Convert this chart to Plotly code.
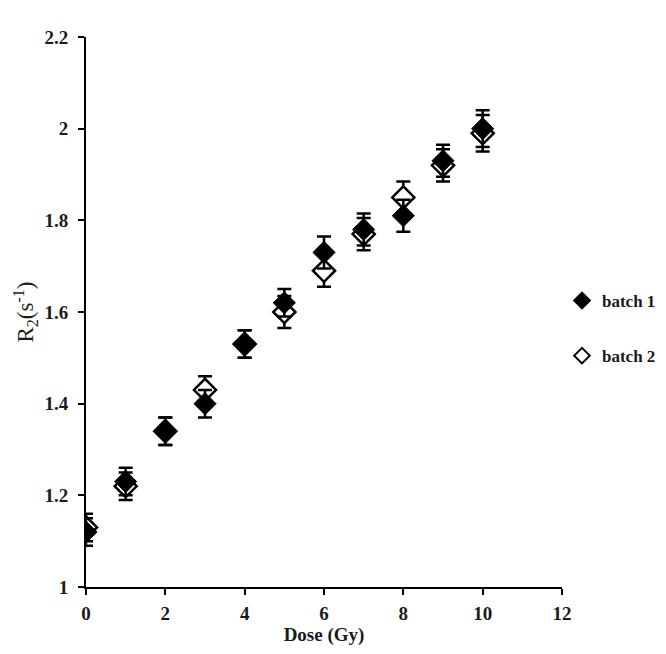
import plotly.graph_objects as go

# data
dose = [0, 1, 2, 3, 4, 5, 6, 7, 8, 9, 10]
batch1 = [1.12, 1.23, 1.34, 1.40, 1.53, 1.62, 1.73, 1.78, 1.81, 1.93, 2.00]
batch2 = [1.13, 1.22, 1.34, 1.43, 1.53, 1.60, 1.69, 1.77, 1.85, 1.92, 1.99]
err1 = [0.03, 0.03, 0.03, 0.03, 0.03, 0.03, 0.035, 0.035, 0.035, 0.035, 0.04]
err2 = [0.03, 0.03, 0.03, 0.03, 0.03, 0.035, 0.035, 0.035, 0.035, 0.035, 0.04]

serif = "Liberation Serif, Times New Roman, serif"

fig = go.Figure()

fig.add_trace(go.Scatter(
    x=dose, y=batch2, mode="markers", name="<b>batch 2</b>", legendgroup="b2",
    marker=dict(symbol="diamond", size=17, color="white",
                line=dict(color="black", width=2.5)),
    error_y=dict(type="data", array=err2, color="black", thickness=2.5, width=7),
    legendrank=2,
))
fig.add_trace(go.Scatter(
    x=dose, y=batch1, mode="markers", name="<b>batch 1</b>", legendgroup="b1",
    marker=dict(symbol="diamond", size=17, color="black",
                line=dict(color="black", width=1)),
    error_y=dict(type="data", array=err1, color="black", thickness=2.5, width=7),
    legendrank=1,
))

fig.update_layout(
    width=658, height=646,
    margin=dict(l=78, r=104, t=29, b=67, autoexpand=False),
    paper_bgcolor="white", plot_bgcolor="white",
    font=dict(family=serif, color="#1a1a1a", size=18),
    legend=dict(x=1.0, y=0.47, xanchor="left", yanchor="middle",
                tracegroupgap=30, itemwidth=30, itemsizing="constant",
                font=dict(family=serif, size=17, color="#1a1a1a")),
    xaxis=dict(
        range=[0, 12], tickmode="array", tickvals=[0, 2, 4, 6, 8, 10, 12],
        ticktext=["<b>%d</b>" % v for v in [0, 2, 4, 6, 8, 10, 12]],
        tickfont=dict(size=19), ticklabelstandoff=2,
        showline=True, linecolor="black", linewidth=2, mirror=False,
        ticks="outside", ticklen=6, tickwidth=2, tickcolor="black",
        showgrid=False, zeroline=False,
        title=dict(text="<b>Dose (Gy)</b>", font=dict(size=19), standoff=4),
    ),
    yaxis=dict(
        range=[1, 2.2], tickmode="array",
        tickvals=[1, 1.2, 1.4, 1.6, 1.8, 2, 2.2],
        ticktext=["<b>1</b>", "<b>1.2</b>", "<b>1.4</b>", "<b>1.6</b>",
                  "<b>1.8</b>", "<b>2</b>", "<b>2.2</b>"],
        tickfont=dict(size=19), ticklabelstandoff=6,
        showline=True, linecolor="black", linewidth=2,
        ticks="outside", ticklen=6, tickwidth=2, tickcolor="black",
        showgrid=False, zeroline=False,
        title=dict(text="R<sub>2</sub>(s<sup>-1</sup>)", font=dict(size=23), standoff=4),
    ),
)

fig.write_html("out.html")
